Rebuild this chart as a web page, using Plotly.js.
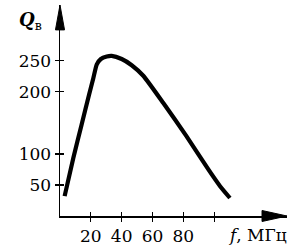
<!DOCTYPE html>
<html>
<head>
<meta charset="utf-8">
<script src="https://cdn.plot.ly/plotly-3.0.1.min.js"></script>
<style>html,body{margin:0;padding:0;background:#fff;}#chart{width:297px;height:249px;}</style>
</head>
<body>
<div id="chart"></div>
<script>
// Data
var freqMHz = [3, 8.6, 14, 18.8, 21.6, 23.8, 26.5, 30.3, 33.5, 40, 46.5, 54, 67, 82.2, 96.2, 103.8, 110.2];
var qValues = [32, 93, 147, 195, 222, 244, 253, 257, 258, 253, 243, 226, 182, 128, 75, 48, 29];
var xTickVals = [20, 40, 60, 80, 100];
var xTickText = ['20', '40', '60', '80', ''];
var yTickVals = [50, 100, 200, 250];
var yTickText = ['50', '100', '200', '250'];

var xRange = [0, 147.2];
var yRange = [0, 340];
var tickFont = {family: 'DejaVu Serif', size: 17, color: '#000'};

var traces = [
  {x: freqMHz, y: qValues, type: 'scatter', mode: 'lines',
   line: {color: '#000', width: 4.2, shape: 'spline', smoothing: 0.5},
   hoverinfo: 'skip', showlegend: false},
  {x: [], y: [], xaxis: 'x2', yaxis: 'y2', type: 'scatter', mode: 'lines',
   hoverinfo: 'skip', showlegend: false}
];

var baseAxis = {showgrid: false, zeroline: false, showline: true, linecolor: '#000', linewidth: 1.5,
  ticks: 'outside', ticklen: 4, tickwidth: 1.2, tickcolor: '#000', tickfont: tickFont, fixedrange: true};

var layout = {
  width: 297, height: 249,
  margin: {l: 60, r: 10, t: 5, b: 32.5, pad: 0},
  paper_bgcolor: '#fff', plot_bgcolor: '#fff',
  showlegend: false,
  xaxis: Object.assign({}, baseAxis, {range: xRange, tickmode: 'array', tickvals: xTickVals, ticktext: xTickText}),
  yaxis: Object.assign({}, baseAxis, {range: yRange, tickmode: 'array', tickvals: yTickVals, ticktext: yTickText}),
  xaxis2: {overlaying: 'x', anchor: 'y', range: xRange, showgrid: false, zeroline: false, showline: false,
    ticks: 'inside', ticklen: 4, tickwidth: 1.2, tickcolor: '#000', showticklabels: false,
    tickmode: 'array', tickvals: xTickVals, fixedrange: true},
  yaxis2: {overlaying: 'y', anchor: 'x', range: yRange, showgrid: false, zeroline: false, showline: false,
    ticks: 'inside', ticklen: 4, tickwidth: 1.2, tickcolor: '#000', showticklabels: false,
    tickmode: 'array', tickvals: yTickVals, fixedrange: true},
  shapes: [
    {type: 'path', xref: 'paper', yref: 'paper', path: 'M -0.02 0.882 L 0 1 L 0.02 0.882 Z',
     fillcolor: '#000', line: {color: '#000', width: 1}},
    {type: 'path', xref: 'paper', yref: 'paper', path: 'M 0.89 0.026 L 1 0 L 0.89 -0.026 Z',
     fillcolor: '#000', line: {color: '#000', width: 1}}
  ],
  annotations: [
    {xref: 'paper', yref: 'paper', x: -0.13, y: 0.924, xanchor: 'center', yanchor: 'middle',
     text: '<b><i>Q</i></b><sub>в</sub>', showarrow: false,
     font: {family: 'DejaVu Serif', size: 18, color: '#000'}},
    {xref: 'paper', yref: 'paper', x: 0.87, y: -0.092, xanchor: 'center', yanchor: 'middle',
     text: '<i>f</i>, МГц', showarrow: false,
     font: {family: 'DejaVu Serif', size: 17, color: '#000'}}
  ]
};

Plotly.newPlot('chart', traces, layout, {staticPlot: true, displayModeBar: false});
</script>
</body>
</html>
